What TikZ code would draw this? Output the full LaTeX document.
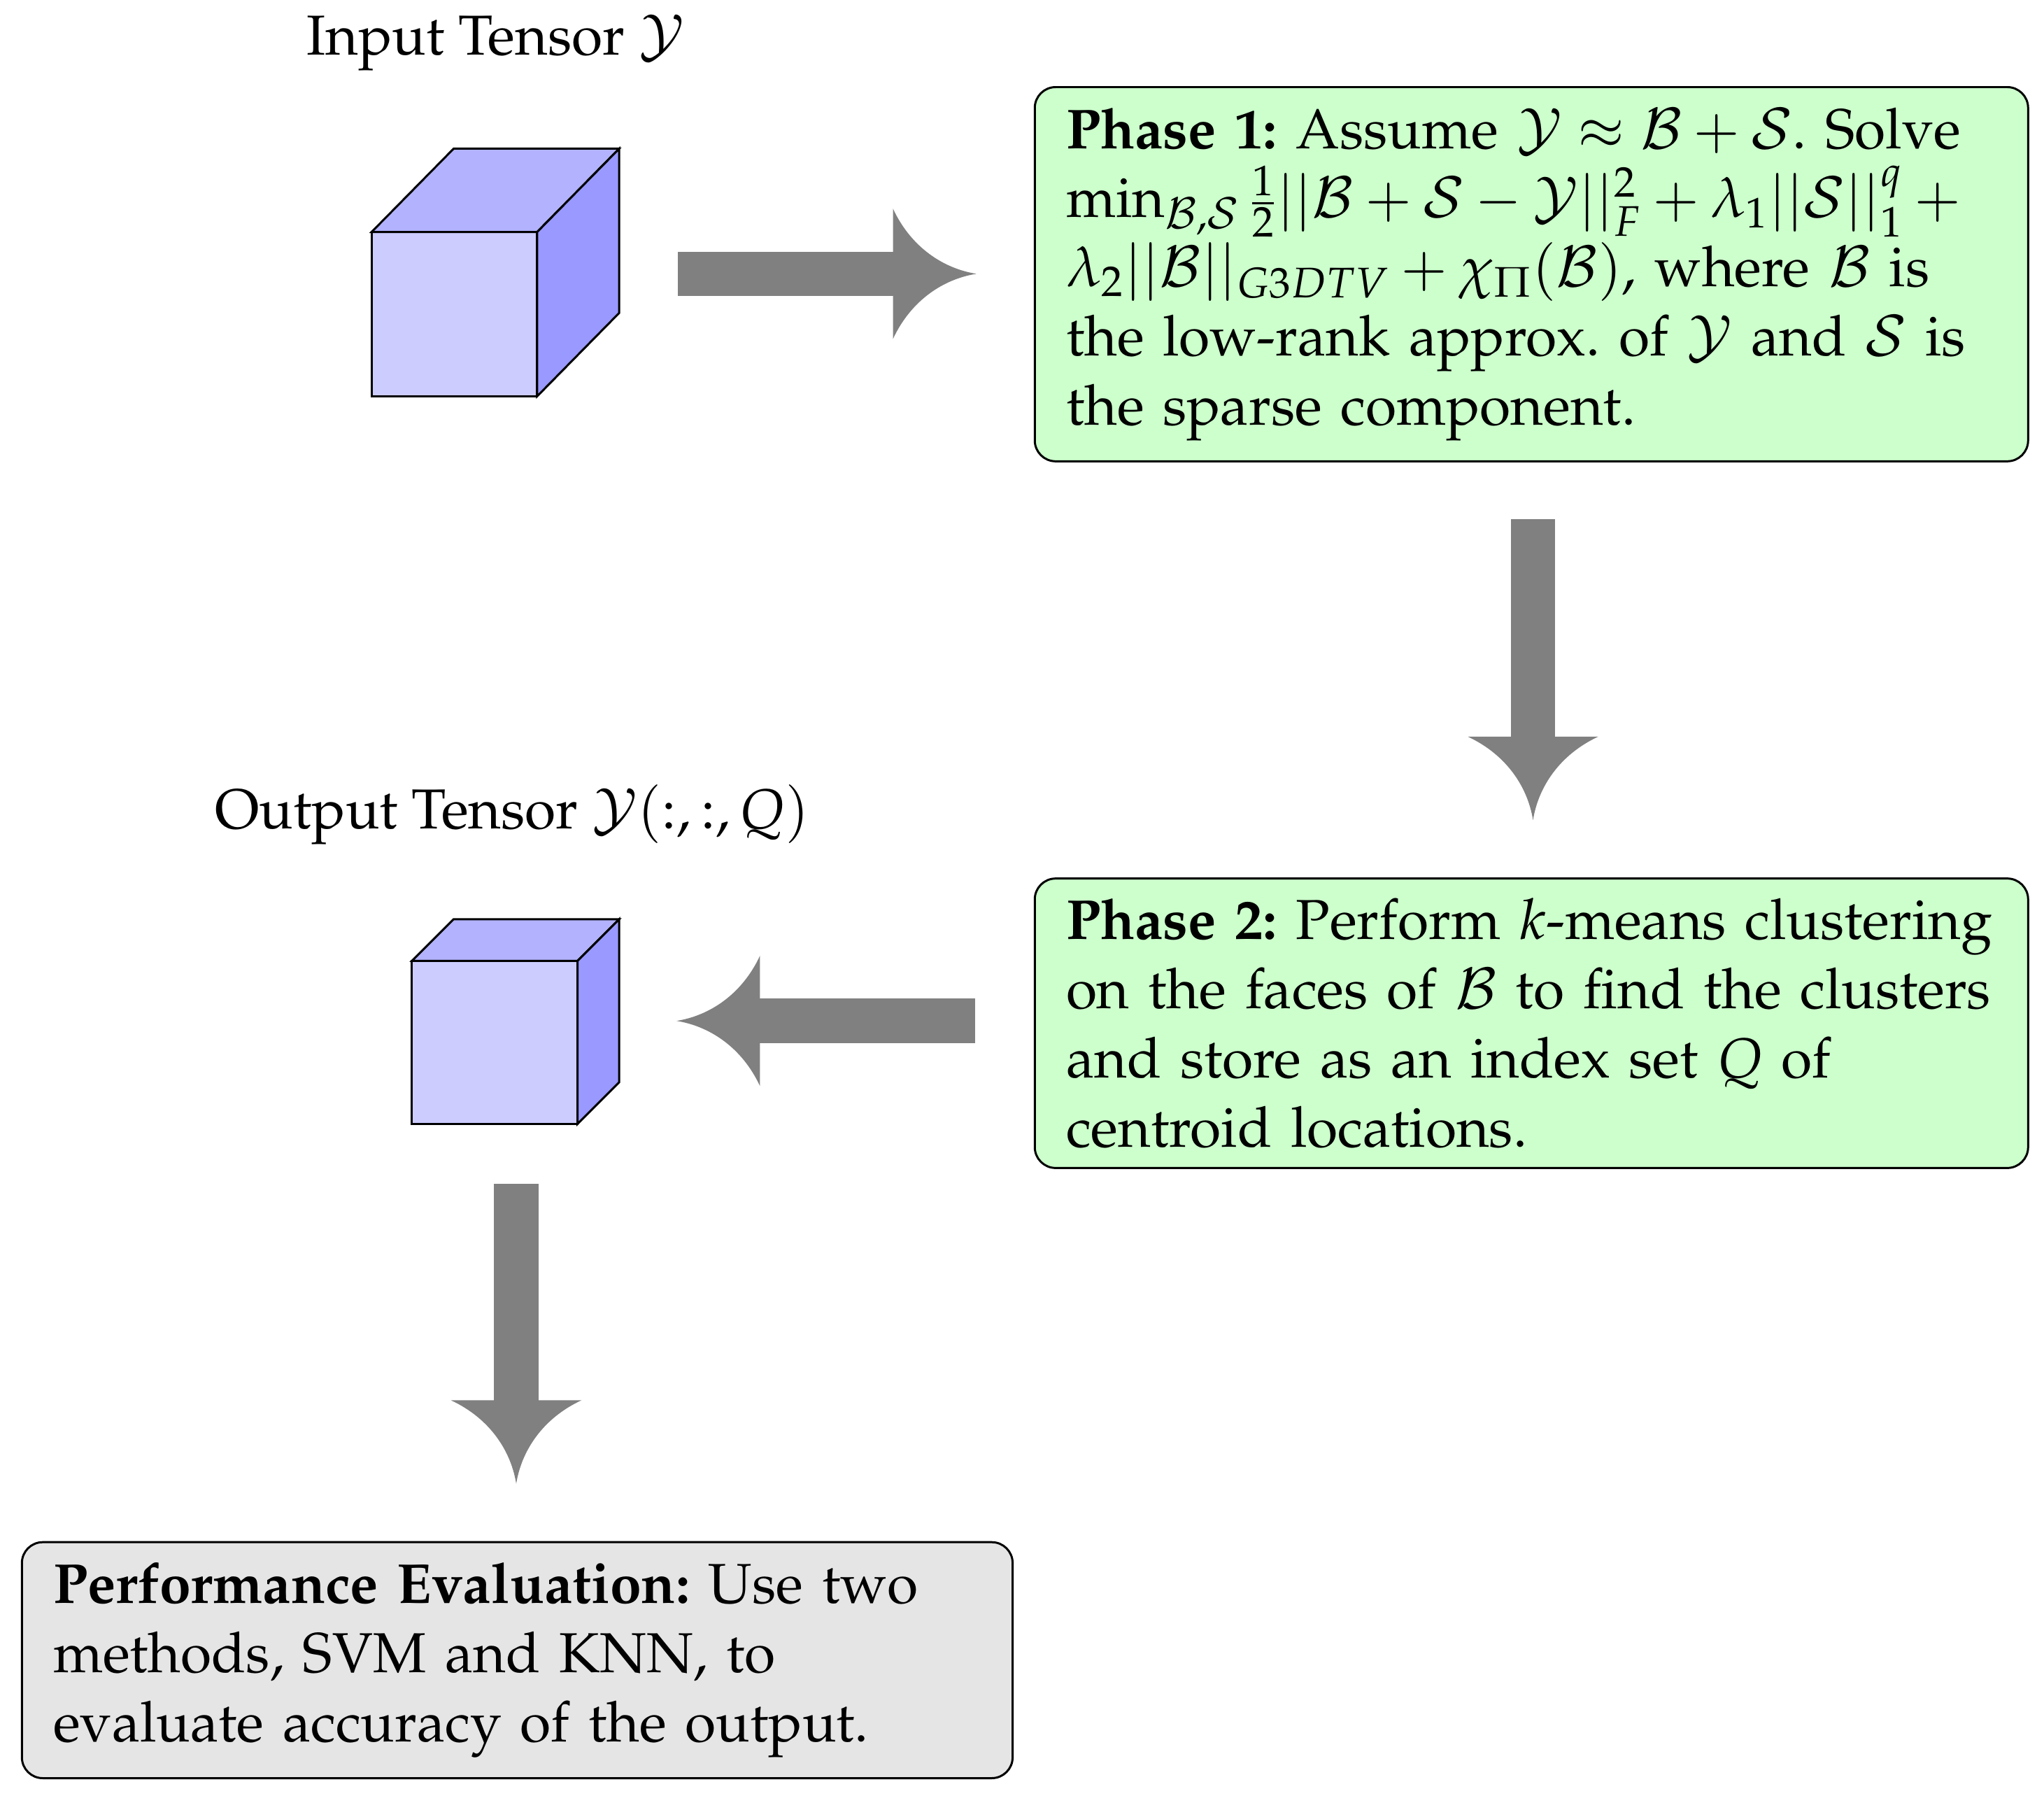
\documentclass[tikz,border=0pt]{standalone}
\usepackage[T1]{fontenc}
\usepackage{mathpazo}
\frenchspacing
\begin{document}
\begin{tikzpicture}[x=0.5pt,y=-0.5pt,
  big/.style={draw=gray,line width=17pt},
  box/.style={draw=black,line width=0.8pt,rounded corners=8pt,align=left,inner xsep=12pt,inner ysep=0pt,anchor=north west},
  txt/.style={font=\fontsize{21.6}{26.5}\selectfont},
  cube/.style={draw=black,line width=0.8pt},
  head/.pic={\fill[gray] (0,0) .. controls (-25,-4) and (-50,-20) .. (-64,-50)
     -- (-64,50) .. controls (-50,20) and (-25,4) .. (0,0) -- cycle;}]
\useasboundingbox (0,0) rectangle (1568,1377);
% cube 1
\fill[blue!20] (285,178) rectangle (412,304);
\filldraw[cube,fill=blue!30] (285,178) -- (348,114) -- (475,114) -- (412,178) -- cycle;
\filldraw[cube,fill=blue!40] (412,178) -- (475,114) -- (475,240) -- (412,304) -- cycle;
\draw[cube] (285,178) rectangle (412,304);
\node[txt] (in) at (380,33) {Input Tensor $\mathcal{Y}$};
% cube 2
\fill[blue!20] (316,737) rectangle (443,862);
\filldraw[cube,fill=blue!30] (316,737) -- (348,705) -- (475,705) -- (443,737) -- cycle;
\filldraw[cube,fill=blue!40] (443,737) -- (475,705) -- (475,830) -- (443,862) -- cycle;
\draw[cube] (316,737) rectangle (443,862);
\node[txt] (out) at (393,625) {Output Tensor $\mathcal{Y}(:,:,Q)$};
% boxes
\node[box,txt,fill=green!20,minimum width=381pt,minimum height=143.5pt,text width=357pt] (p1) at (793,66)
{\textbf{Phase 1:} Assume $\mathcal{Y}\approx\mathcal{B}+\mathcal{S}$. Solve\\
$\min_{\mathcal{B},\mathcal{S}}\frac{1}{2}||\mathcal{B}+\mathcal{S}-\mathcal{Y}||_F^2+\lambda_1||\mathcal{S}||_1^q+{}$\\
$\lambda_2||\mathcal{B}||_{G3DTV}+\chi_\Pi(\mathcal{B})$, where $\mathcal{B}$ is\\
the low-rank approx.\ of $\mathcal{Y}$ and $\mathcal{S}$ is\\
the sparse component.};
\node[box,txt,fill=green!20,minimum width=381pt,minimum height=111pt,text width=357pt] (p2) at (793,673)
{\textbf{Phase 2:} Perform $k$-means clustering\\
on the faces of $\mathcal{B}$ to find the clusters\\
and store as an index set $Q$ of\\
centroid locations.};
\node[box,txt,fill=gray!20,minimum width=380pt,minimum height=90.5pt,text width=356pt] (pe) at (16,1182)
{\textbf{Performance Evaluation:} Use two\\
methods, SVM and KNN, to\\
evaluate accuracy of the output.};
% arrows
\coordinate (a1s) at (520,210); \coordinate (a1b) at (690,210); \coordinate (a1e) at (749,210);
\coordinate (a2s) at (1176,398); \coordinate (a2b) at (1176,570); \coordinate (a2e) at (1176,629);
\coordinate (a3s) at (748,783); \coordinate (a3b) at (578,783); \coordinate (a3e) at (519,783);
\coordinate (a4s) at (396,908); \coordinate (a4b) at (396,1080); \coordinate (a4e) at (396,1138);
\draw[big] (a1s) -- (a1b); \pic[rotate=0] at (a1e) {head};
\draw[big] (a2s) -- (a2b); \pic[rotate=-90] at (a2e) {head};
\draw[big] (a3s) -- (a3b); \pic[rotate=180] at (a3e) {head};
\draw[big] (a4s) -- (a4b); \pic[rotate=-90] at (a4e) {head};
\end{tikzpicture}
\end{document}
